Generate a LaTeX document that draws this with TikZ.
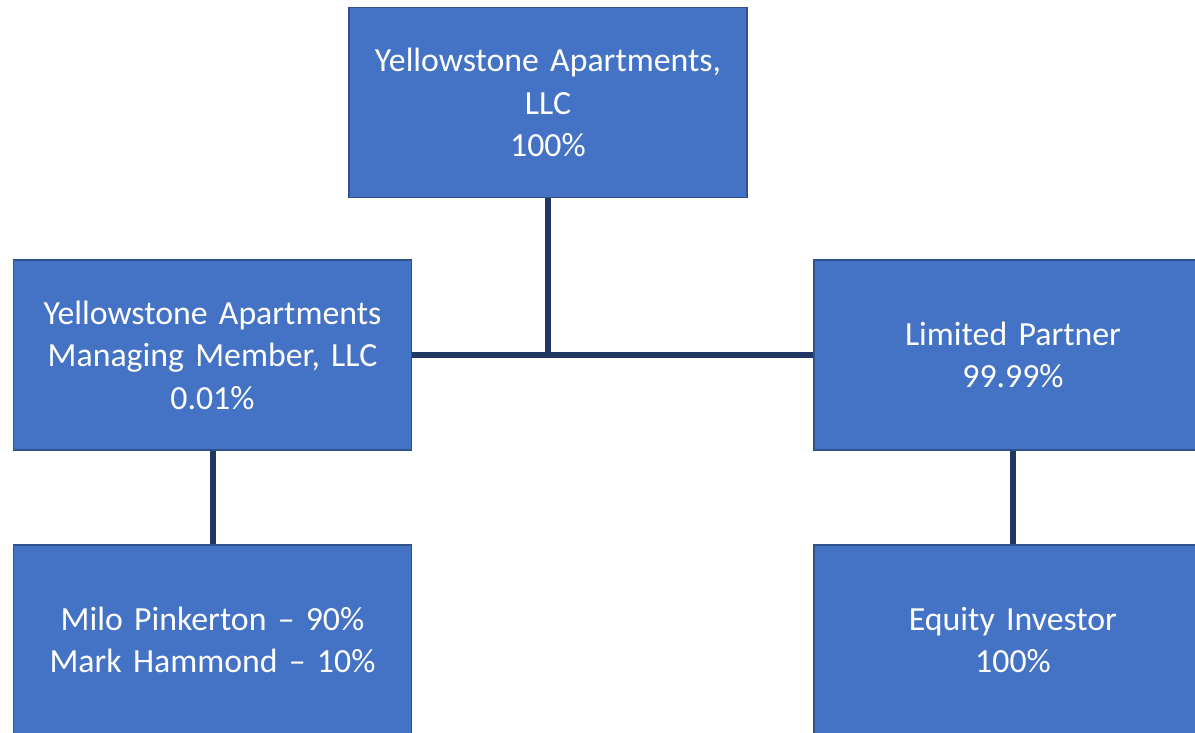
\documentclass[tikz,border=0pt]{standalone}
\usepackage{fontspec}
\setmainfont{Carlito}
\definecolor{boxfill}{HTML}{4472C4}
\definecolor{boxline}{HTML}{2F528F}
\definecolor{conn}{HTML}{203864}
\begin{document}
\begin{tikzpicture}[x=1pt,y=-1pt,
  orgbox/.style={draw=boxline, line width=1.5pt, fill=boxfill, text=white,
    minimum width=398pt, minimum height=190pt, inner sep=0pt, align=center,
    font=\fontsize{33.8}{42.5}\selectfont, text width=390pt},
  link/.style={draw=conn, line width=6pt}]
\clip (0,0) rectangle (1195,733);
\fill[white] (0,0) rectangle (1195,733);
\node[orgbox] (top) at (548,102.5) {Yellowstone Apartments,\\LLC\\100\%};
\node[orgbox] (mm) at (212.5,355) {Yellowstone Apartments\\Managing Member, LLC\\0.01\%};
\node[orgbox] (lp) at (1013,355) {Limited Partner\\99.99\%};
\node[orgbox] (mp) at (212.5,640) {Milo Pinkerton – 90\%\\Mark Hammond – 10\%};
\node[orgbox] (ei) at (1013,640) {Equity Investor\\100\%};
\coordinate (j) at (top.south |- mm.east);
\draw[link] (mm.east) -- (lp.west);
\draw[link] (top.south) -- (j);
\draw[link] (mm.south) -- (mp.north);
\draw[link] (lp.south) -- (ei.north);
\end{tikzpicture}
\end{document}
